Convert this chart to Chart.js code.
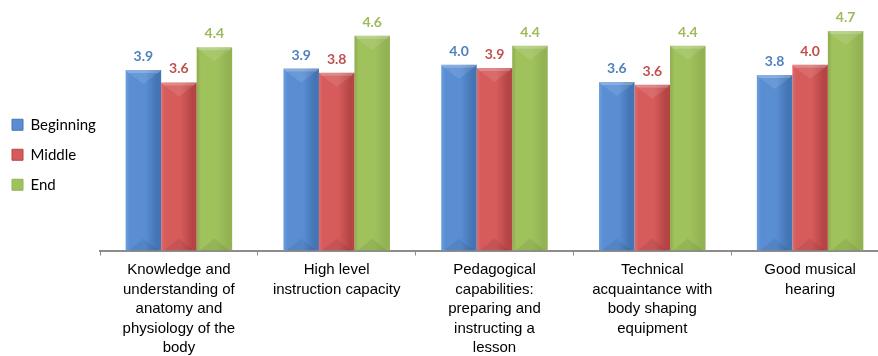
<!DOCTYPE html>
<html>
<head>
<meta charset="utf-8">
<script src="https://cdn.jsdelivr.net/npm/chart.js@4.4.1/dist/chart.umd.min.js"></script>
<style>
  html, body { margin: 0; padding: 0; background: #ffffff; overflow: hidden; }
  #wrap { width: 889px; height: 356px; }
</style>
</head>
<body>
<div id="wrap"><canvas id="c" width="889" height="356"></canvas></div>
<script>
const categories = [
  ["Knowledge and", "understanding of", "anatomy and", "physiology of the", "body"],
  ["High level", "instruction capacity"],
  ["Pedagogical", "capabilities:", "preparing and", "instructing a", "lesson"],
  ["Technical", "acquaintance with", "body shaping", "equipment"],
  ["Good musical", "hearing"]
];
const seriesNames = ["Beginning", "Middle", "End"];
const beginning = [3.90, 3.93, 4.01, 3.64, 3.79];
const middle    = [3.63, 3.84, 3.94, 3.58, 4.01];
const end       = [4.39, 4.64, 4.42, 4.42, 4.74];

const CAT_PCT = 0.675;
const palettes = [
  { base: '#4f81bd', light: '#6a9ee0', mid: '#5a8ed3', dark: '#4474b3', label: '#4f81bd' },
  { base: '#c0504d', light: '#e06a6a', mid: '#d65b5b', dark: '#b54545', label: '#c0504d' },
  { base: '#9bbb59', light: '#8eac4e', mid: '#a0c25d', dark: '#93b353', label: '#9bbb59' }
];

function barFill(ctx) {
  const p = palettes[ctx.datasetIndex];
  const chart = ctx.chart;
  const xs = chart.scales && chart.scales.x;
  if (ctx.type !== 'data' || !xs || !isFinite(xs.width) || xs.width <= 0) return p.mid;
  const catW = xs.width / categories.length;
  const groupW = catW * CAT_PCT;
  const barW = groupW / 3;
  const cx = xs.getPixelForValue(ctx.dataIndex);
  const left = cx - groupW / 2 + ctx.datasetIndex * barW;
  const g = chart.ctx.createLinearGradient(left, 0, left + barW, 0);
  g.addColorStop(0, p.light);
  g.addColorStop(0.12, p.mid);
  g.addColorStop(0.55, p.mid);
  g.addColorStop(0.88, p.dark);
  g.addColorStop(1, p.dark);
  return g;
}

const bevelAndLabels = {
  id: 'bevelAndLabels',
  afterDatasetsDraw(chart) {
    const ctx = chart.ctx;
    ctx.save();
    chart.data.datasets.forEach((ds, di) => {
      const meta = chart.getDatasetMeta(di);
      meta.data.forEach((el, i) => {
        const left = el.x - el.width / 2, right = el.x + el.width / 2;
        const top = el.y, bottom = el.base;
        ctx.fillStyle = 'rgba(255,255,255,0.28)';
        ctx.beginPath();
        ctx.moveTo(left, top); ctx.lineTo(right, top);
        ctx.lineTo(right - 3, top + 3); ctx.lineTo(left + 3, top + 3);
        ctx.closePath(); ctx.fill();
        ctx.fillStyle = 'rgba(255,255,255,0.10)';
        ctx.beginPath();
        ctx.moveTo(left + 3, top + 3); ctx.lineTo(right - 3, top + 3);
        ctx.lineTo(el.x, top + 14);
        ctx.closePath(); ctx.fill();
        ctx.fillStyle = 'rgba(0,0,0,0.07)';
        ctx.beginPath();
        ctx.moveTo(left + 3, bottom); ctx.lineTo(right - 3, bottom);
        ctx.lineTo(el.x, bottom - 12);
        ctx.closePath(); ctx.fill();
        ctx.fillStyle = palettes[di].label;
        ctx.font = 'bold 14px Lato, "Liberation Sans", sans-serif';
        ctx.textAlign = 'center';
        ctx.textBaseline = 'alphabetic';
        ctx.fillText(Number(ds.data[i]).toFixed(1), el.x, top - 9);
      });
    });
    ctx.restore();
  }
};

new Chart(document.getElementById('c'), {
  type: 'bar',
  data: {
    labels: categories,
    datasets: [
      { label: seriesNames[0], data: beginning },
      { label: seriesNames[1], data: middle },
      { label: seriesNames[2], data: end }
    ].map((d, i) => Object.assign(d, {
      backgroundColor: barFill,
      borderWidth: 0,
      barPercentage: 1.0,
      categoryPercentage: CAT_PCT
    }))
  },
  options: {
    responsive: false,
    animation: false,
    devicePixelRatio: 1,
    layout: { padding: { top: 19, left: -3, right: 0, bottom: -7 } },
    plugins: {
      tooltip: { enabled: false },
      legend: {
        position: 'left',
        fullSize: false,
        maxWidth: 103,
        align: 'center',
        title: { display: true, text: ' ', font: { size: 10 }, padding: { top: 14, bottom: 14 } },
        labels: {
          boxWidth: 11,
          boxHeight: 11,
          padding: 15,
          color: '#000000',
          font: { family: 'Lato, "Liberation Sans", sans-serif', size: 15 },
          generateLabels(chart) {
            return chart.data.datasets.map((ds, i) => ({
              text: ds.label,
              fillStyle: palettes[i].mid,
              strokeStyle: palettes[i].dark,
              lineWidth: 1,
              hidden: false,
              datasetIndex: i,
              fontColor: '#000000'
            }));
          }
        }
      }
    },
    scales: {
      x: {
        offset: true,
        grid: {
          display: true,
          offset: true,
          drawOnChartArea: false,
          drawTicks: true,
          tickLength: 5,
          color: '#8c8c8c',
          lineWidth: 1
        },
        border: { display: true, color: '#8c8c8c', width: 2 },
        ticks: {
          color: '#000000',
          padding: 5,
          maxRotation: 0,
          minRotation: 0,
          autoSkip: false,
          font: { family: '"Liberation Sans", Arial, sans-serif', size: 15, lineHeight: 1.3 }
        }
      },
      y: {
        display: false,
        min: 0,
        max: 5
      }
    }
  },
  plugins: [bevelAndLabels]
});
</script>
</body>
</html>
